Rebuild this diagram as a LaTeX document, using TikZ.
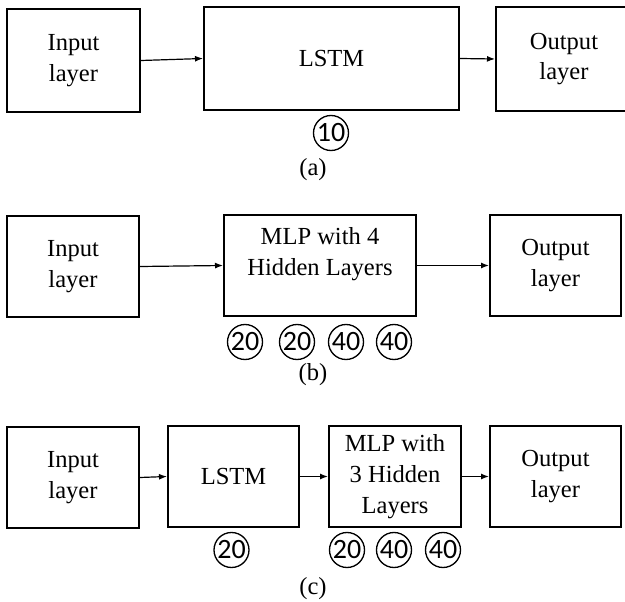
\documentclass[tikz,border=0pt]{standalone}
\usepackage{fontspec}
\setmainfont{Liberation Serif}
\newfontfamily\numfont{Carlito}
\usetikzlibrary{arrows.meta}
\tikzset{
  blk/.style 2 args={draw, line width=1.5pt, rectangle, inner sep=0pt, align=center,
    minimum width=#1*0.75pt, minimum height=#2*0.75pt,
    font=\fontsize{18.4}{23}\selectfont},
  txt/.style={inner sep=0pt, align=center, font=\fontsize{18.4}{23}\selectfont},
  numc/.style={draw, line width=1pt, shape=circle, inner sep=0pt,
    minimum size=35*0.75pt,
    font=\numfont\fontsize{21}{22}\selectfont},
  arr/.style={line width=0.9pt, -{Latex[length=6pt,width=4.5pt]}}
}
\begin{document}
\begin{tikzpicture}[x=0.75pt,y=-0.75pt]
\useasboundingbox (0,0) rectangle (625,602);
% row (a)
\node[blk={133}{103}] (ina) at (73.5,60.5) {Input\\layer};
\node[blk={255}{103}] (lstma) at (331.5,58.5) {LSTM};
\node[blk={136}{104}] (outa) at (564,59) {Output\\layer};
\draw[arr] (ina.east) -- (lstma.west);
\draw[arr] (lstma.east) -- (outa.west);
\node[numc] (na1) at (331,133) {10};
\node[txt] (capa) at (313,170) {(a)};
% row (b)
\node[blk={132}{101}] (inb) at (73,266.5) {Input\\layer};
\node[blk={192}{101}] (mlpb) at (320,265.5) {};
\node[txt] (mlpbt) at (320,254) {MLP with 4\\Hidden Layers};
\node[blk={131}{101}] (outb) at (555.5,265.5) {Output\\layer};
\draw[arr] (inb.east) -- (mlpb.west);
\draw[arr] (mlpb.east) -- (outb.west);
\node[numc] (nb1) at (245,342) {20};
\node[numc] (nb2) at (297,342) {20};
\node[numc] (nb3) at (346,342) {40};
\node[numc] (nb4) at (394,342) {40};
\node[txt] (capb) at (313,375) {(b)};
% row (c)
\node[blk={132}{101}] (inc) at (73,477.5) {Input\\layer};
\node[blk={131}{101}] (lstmc) at (233.5,476.5) {LSTM};
\node[blk={132}{101}] (mlpc) at (395,476.5) {MLP with\\3 Hidden\\Layers};
\node[blk={131}{101}] (outc) at (555.5,476.5) {Output\\layer};
\draw[arr] (inc.east) -- (lstmc.west);
\draw[arr] (lstmc.east) -- (mlpc.west);
\draw[arr] (mlpc.east) -- (outc.west);
\node[numc] (nc0) at (231.5,550) {20};
\node[numc] (nc1) at (347,550) {20};
\node[numc] (nc2) at (394,550) {40};
\node[numc] (nc3) at (443,550) {40};
\node[txt] (capc) at (313,589) {(c)};
\end{tikzpicture}
\end{document}
